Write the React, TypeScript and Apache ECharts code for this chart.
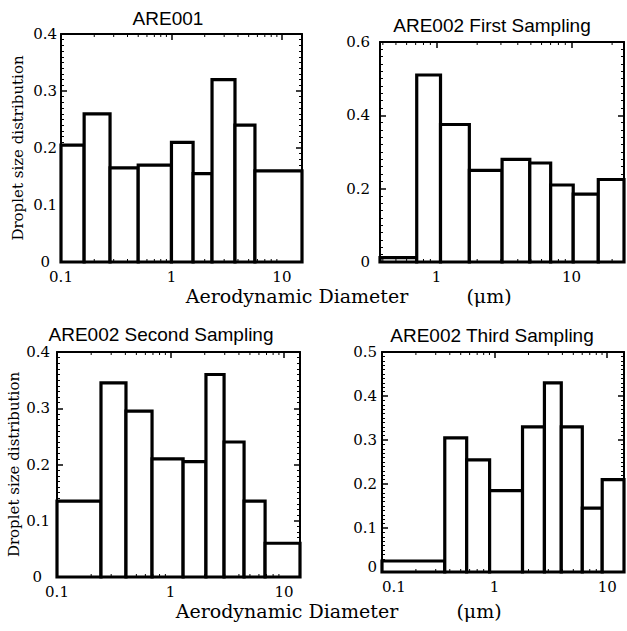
import React, { useEffect, useRef } from 'react';
import * as echarts from 'echarts';

// ---- data ----
const PANEL_TITLES = ['ARE001', 'ARE002 First Sampling', 'ARE002 Second Sampling', 'ARE002 Third Sampling'];

// bin edges (µm) and droplet size distribution per bin
const EDGES_ARE001 = [0.1, 0.162, 0.278, 0.5, 1.0, 1.57, 2.33, 3.76, 5.7, 15.2];
const VALUES_ARE001 = [0.205, 0.26, 0.165, 0.17, 0.21, 0.155, 0.32, 0.24, 0.16];

const EDGES_FIRST = [0.381, 0.713, 1.07, 1.75, 3.06, 4.91, 7.01, 10.3, 15.8, 24.5];
const VALUES_FIRST = [0.012, 0.51, 0.375, 0.25, 0.28, 0.27, 0.21, 0.185, 0.225];

const EDGES_SECOND = [0.1, 0.244, 0.405, 0.687, 1.29, 2.05, 2.96, 4.44, 6.8, 13.8];
const VALUES_SECOND = [0.135, 0.345, 0.295, 0.21, 0.205, 0.36, 0.24, 0.135, 0.06];

const EDGES_THIRD = [0.1, 0.361, 0.565, 0.903, 1.77, 2.77, 3.91, 6.01, 9.03, 14.1];
const VALUES_THIRD = [0.025, 0.305, 0.255, 0.185, 0.33, 0.43, 0.33, 0.145, 0.21];

const Y_MAX = [0.4, 0.6, 0.4, 0.5];
const Y_STEP = [0.1, 0.2, 0.1, 0.1];

const MINOR_X = [0.2, 0.3, 0.4, 0.5, 0.6, 0.7, 0.8, 0.9, 2, 3, 4, 5, 6, 7, 8, 9, 20];

const Y_NAME = 'Droplet size distribution';
const X_NAME = 'Aerodynamic Diameter';
const X_UNIT = '(μm)';

// ---- layout ----
const GRIDS = [
  { left: 61, top: 34, width: 241, height: 228 },
  { left: 380, top: 42, width: 246, height: 220 },
  { left: 57, top: 352, width: 243, height: 225 },
  { left: 382, top: 352, width: 243, height: 220 },
];
const Y_LABEL_MARGIN = [4, 10, 7, 5];
// padding applied to the "0" label of each panel: [top, right, bottom, left]
const ZERO_PAD = [
  [0, 7, 0, 0],
  [0, 0, 0, 0],
  [0, 8, 0, 0],
  [0, 0, 10, 0],
];
const TITLE_POS = [
  [168, 18],
  [492, 25],
  [161, 334],
  [492, 335],
];

const SERIF = "'DejaVu Serif', serif";
const SANS = "'Liberation Sans', Arial, sans-serif";

const PANELS = [
  { edges: EDGES_ARE001, values: VALUES_ARE001 },
  { edges: EDGES_FIRST, values: VALUES_FIRST },
  { edges: EDGES_SECOND, values: VALUES_SECOND },
  { edges: EDGES_THIRD, values: VALUES_THIRD },
];

function xLabel(v: number): string {
  const l = Math.log10(v);
  const r = Math.round(l);
  if (Math.abs(l - r) > 1e-6) return '';
  return String(Number(Math.pow(10, r).toPrecision(6)));
}

function buildOption() {
  const grid: any[] = [];
  const xAxis: any[] = [];
  const yAxis: any[] = [];
  const series: any[] = [];
  const lineStyle = { color: '#000', width: 2 };
  const tickStyle = { color: '#000', width: 1.5 };

  PANELS.forEach((p, i) => {
    grid.push({ ...GRIDS[i], containLabel: false });
    const xmin = p.edges[0];
    const xmax = p.edges[p.edges.length - 1];
    const ymax = Y_MAX[i];
    const baseX = {
      type: 'log',
      logBase: 10,
      gridIndex: i,
      min: xmin,
      max: xmax,
      axisLine: { show: true, onZero: false, lineStyle },
      axisTick: { show: true, inside: true, length: 6, lineStyle: tickStyle },
      splitLine: { show: false },
      minorTick: { show: false },
    };
    xAxis.push({
      ...baseX,
      position: 'bottom',
      axisLabel: {
        formatter: xLabel,
        fontFamily: SERIF,
        fontSize: 15,
        lineHeight: 15,
        color: '#000',
        margin: 7,
        ...(i === 3 ? { alignMinLabel: 'left' } : {}),
      },
    });
    xAxis.push({ ...baseX, position: 'top', axisLabel: { show: false } });

    const baseY = {
      type: 'value',
      gridIndex: i,
      min: 0,
      max: ymax,
      interval: Y_STEP[i],
      axisLine: { show: true, onZero: false, lineStyle },
      axisTick: { show: true, inside: true, length: 6, lineStyle: tickStyle },
      minorTick: { show: true, splitNumber: 10, length: 3, lineStyle: { color: '#000', width: 1 } },
      splitLine: { show: false },
    };
    yAxis.push({
      ...baseY,
      position: 'left',
      axisLabel: {
        fontFamily: SERIF,
        fontSize: 15,
        lineHeight: 15,
        color: '#000',
        margin: Y_LABEL_MARGIN[i],
        formatter: (v: number) => (v === 0 ? '{z|0}' : String(Number(v.toPrecision(6)))),
        rich: {
          z: { fontFamily: SERIF, fontSize: 15, color: '#000', padding: ZERO_PAD[i] },
        },
      },
      ...(i === 0 || i === 2
        ? {
            name: Y_NAME,
            nameLocation: 'middle',
            nameGap: 36,
            nameRotate: 90,
            nameTextStyle: { fontFamily: SERIF, fontSize: 15, color: '#000' },
          }
        : {}),
    });
    yAxis.push({ ...baseY, position: 'right', axisLabel: { show: false } });

    series.push({
      type: 'custom',
      xAxisIndex: 2 * i,
      yAxisIndex: 2 * i,
      data: p.values.map((v, j) => [p.edges[j], p.edges[j + 1], v]),
      encode: { x: [0, 1], y: 2 },
      renderItem: (params: any, api: any) => {
        const p0 = api.coord([api.value(0), 0]);
        const p1 = api.coord([api.value(1), api.value(2)]);
        return {
          type: 'rect',
          shape: { x: p0[0], y: p1[1], width: p1[0] - p0[0], height: p0[1] - p1[1] },
          style: { fill: '#fff', stroke: '#000', lineWidth: 3.2 },
        };
      },
    });

    series.push({
      type: 'custom',
      xAxisIndex: 2 * i,
      yAxisIndex: 2 * i,
      data: MINOR_X.map((v) => [v, 0]),
      encode: { x: 0, y: 1 },
      z: 5,
      renderItem: (params: any, api: any) => {
        const cs = params.coordSys;
        const b = api.coord([api.value(0), 0]);
        const t = api.coord([api.value(0), ymax]);
        if (b[0] < cs.x + 1 || b[0] > cs.x + cs.width - 1) return null;
        const st = { stroke: '#000', lineWidth: 1 };
        return {
          type: 'group',
          children: [
            { type: 'line', shape: { x1: b[0], y1: b[1], x2: b[0], y2: b[1] - 3 }, style: st },
            { type: 'line', shape: { x1: t[0], y1: t[1], x2: t[0], y2: t[1] + 3 }, style: st },
          ],
        };
      },
    });
  });

  const graphic: any[] = PANEL_TITLES.map((t, i) => ({
    type: 'text',
    x: TITLE_POS[i][0],
    y: TITLE_POS[i][1],
    style: {
      text: t,
      fontFamily: SANS,
      fontSize: 19,
      fill: '#000',
      align: 'center',
      verticalAlign: 'middle',
    },
  }));
  const nameRows = [
    { y: 296, x1: 297, x2: 489 },
    { y: 611, x1: 287, x2: 479 },
  ];
  nameRows.forEach((r) => {
    graphic.push({
      type: 'text',
      x: r.x1,
      y: r.y,
      style: { text: X_NAME, fontFamily: SERIF, fontSize: 19, lineHeight: 18, fill: '#000', align: 'center', verticalAlign: 'middle' },
    });
    graphic.push({
      type: 'text',
      x: r.x2,
      y: r.y,
      style: { text: X_UNIT, fontFamily: SERIF, fontSize: 19, lineHeight: 18, fill: '#000', align: 'center', verticalAlign: 'middle' },
    });
  });

  return {
    animation: false,
    backgroundColor: '#fff',
    grid,
    xAxis,
    yAxis,
    series,
    graphic,
  };
}

export default function App() {
  const ref = useRef<HTMLDivElement>(null);
  useEffect(() => {
    document.body.style.margin = '0';
    if (!ref.current) return;
    const chart = echarts.init(ref.current, null, { renderer: 'svg' });
    chart.setOption(buildOption() as any);
    return () => chart.dispose();
  }, []);
  return <div ref={ref} style={{ position: 'absolute', left: 0, top: 0, width: 627, height: 631 }} />;
}
